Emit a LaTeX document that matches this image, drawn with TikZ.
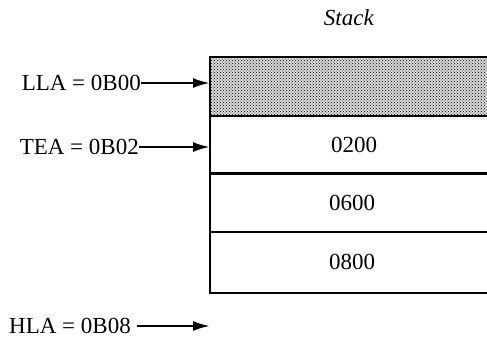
\documentclass[tikz,border=0pt]{standalone}
\usepackage{fontspec}
\setmainfont{Liberation Serif}
\usetikzlibrary{patterns,arrows.meta}

\begin{document}
\begin{tikzpicture}[x=1pt, y=-1pt,
    every node/.style={font=\fontsize{23}{27}\selectfont, inner sep=0pt},
    ptr/.style={line width=2.4pt, -{Latex[length=17pt,width=10pt]}}]
  \useasboundingbox (0,0) rectangle (487,338);
  \clip (0,0) rectangle (487,338);
  % stack frame, the right side runs off the page
  \fill[gray!30] (210,57) rectangle (498,116);
  \fill[pattern=crosshatch dots] (210,57) rectangle (498,116);
  \draw[line width=2.6pt] (210,57) rectangle (498,293);
  \draw[line width=2.2pt] (210,116) -- (498,116);
  \draw[line width=2.2pt] (210,173.5) -- (498,173.5);
  \draw[line width=2.2pt] (210,232) -- (498,232);
  \node (stk) at (349,18) {\textit{Stack}};
  \node (w1) at (354,145) {0200};
  \node (w2) at (352,203) {0600};
  \node (w3) at (352,262) {0800};
  % pointers
  \node[anchor=east] (lla) at (141,83) {LLA = 0B00};
  \node[anchor=east] (tea) at (139,147) {TEA = 0B02};
  \node[anchor=east] (hla) at (131,326) {HLA = 0B08};
  \coordinate (lla-to) at (210,83);
  \coordinate (tea-to) at (210,147);
  \coordinate (hla-to) at (210,326);
  \draw[ptr] (lla) -- (lla-to);
  \draw[ptr] (tea) -- (tea-to);
  \draw[ptr] ([xshift=6pt]hla.east) -- (hla-to);
\end{tikzpicture}
\end{document}
